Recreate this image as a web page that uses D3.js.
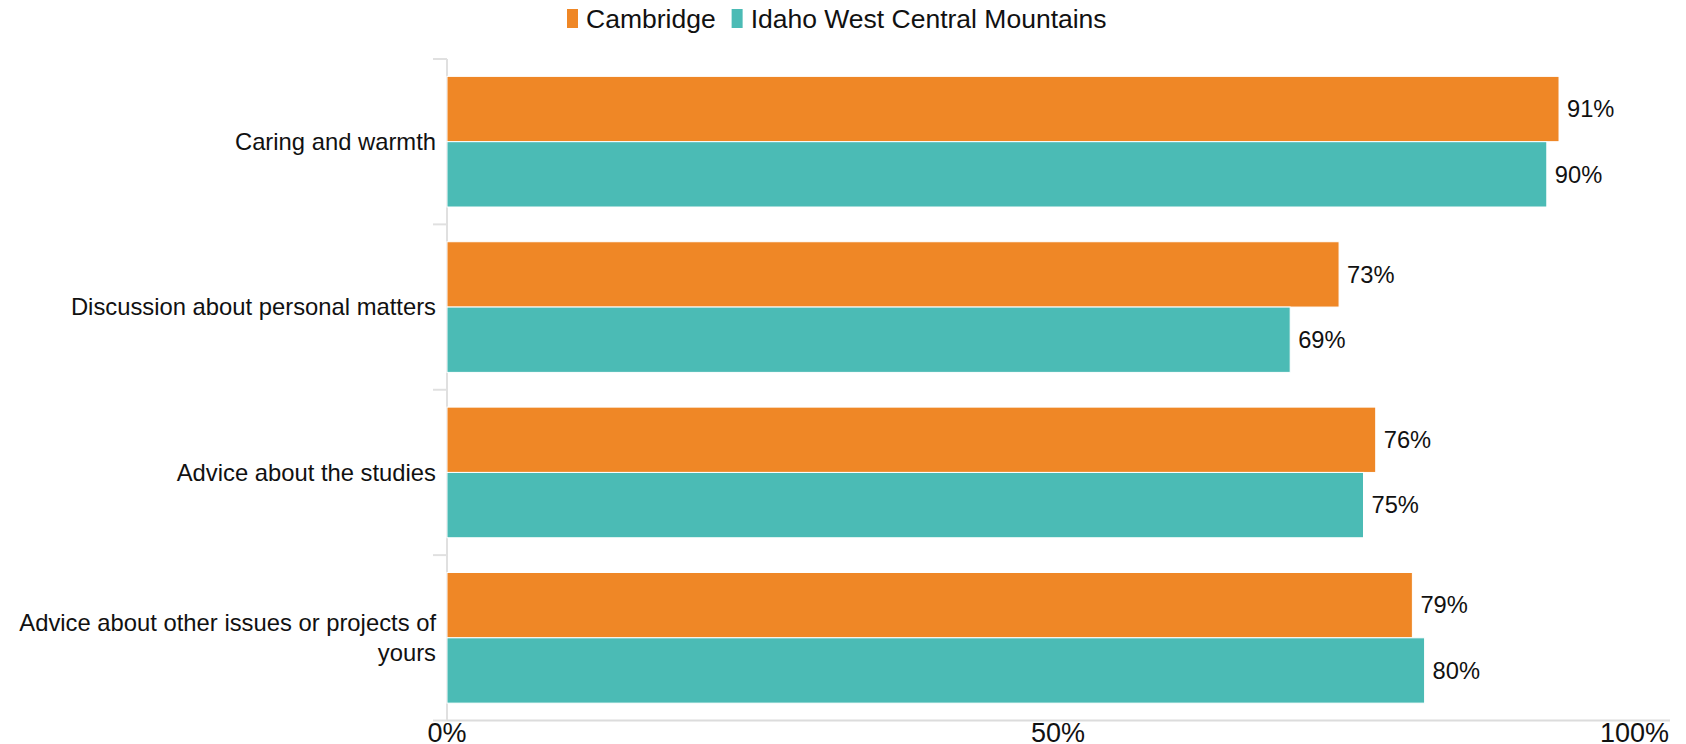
<!DOCTYPE html>
<html>
<head>
<meta charset="utf-8">
<script src="https://cdn.jsdelivr.net/npm/d3@7"></script>
<style>
  html, body { margin: 0; padding: 0; background: #fff; }
  svg { display: block; font-family: "Liberation Sans", Arial, sans-serif; }
</style>
</head>
<body>
<svg id="chart" width="1686" height="744"></svg>
<script>
const categories = [
  ["Caring and warmth"],
  ["Discussion about personal matters"],
  ["Advice about the studies"],
  ["Advice about other issues or projects of ", "yours"]
];
const seriesNames = ["Cambridge", "Idaho West Central Mountains"];
const cambridge = [91, 73, 76, 79];
const idaho = [90, 69, 75, 80];
const seriesValues = [cambridge, idaho];
const colors = ["#EF8726", "#4BBBB5"];
const xTicks = [0, 50, 100];

const W = 1686, H = 744;
const m = { left: 447, right: 1669, top: 59, bottom: 720.5 };
const svg = d3.select("#chart");

const x = d3.scaleLinear().domain([0, 100]).range([m.left, m.right]);
const y0 = d3.scaleBand().domain(d3.range(categories.length)).range([m.top, m.bottom]).padding(0);
const gp = 0.105 * y0.bandwidth();
const y1 = d3.scaleBand().domain(d3.range(seriesNames.length)).range([gp, y0.bandwidth() - gp]).padding(0);

// left axis line and ticks
svg.append("line").attr("x1", m.left).attr("x2", m.left).attr("y1", m.top).attr("y2", m.bottom)
  .attr("stroke", "#e0e0e0").attr("stroke-width", 2);
const bandEdges = d3.range(categories.length + 1).map(i => m.top + i * y0.step());
svg.selectAll(".ytick").data(bandEdges).enter().append("line")
  .attr("x1", m.left - 14).attr("x2", m.left).attr("y1", d => d).attr("y2", d => d)
  .attr("stroke", "#e0e0e0").attr("stroke-width", 2);

// bars
const groups = svg.selectAll(".grp").data(categories).enter().append("g")
  .attr("transform", (d, i) => `translate(0,${y0(i)})`);
groups.each(function(cat, ci) {
  const g = d3.select(this);
  seriesValues.forEach((vals, si) => {
    g.append("rect")
      .attr("x", x(0)).attr("y", y1(si))
      .attr("width", x(vals[ci]) - x(0)).attr("height", y1.bandwidth())
      .attr("fill", colors[si]).attr("stroke", "#fff").attr("stroke-width", 1);
    g.append("text")
      .attr("x", x(vals[ci]) + 8).attr("y", y1(si) + y1.bandwidth() / 2)
      .attr("dy", "0.35em").attr("font-size", 23.7).attr("fill", "#111")
      .text(vals[ci] + "%");
  });
  // category label
  const lh = 29.5;
  const n = cat.length;
  const cy = y0.bandwidth() / 2;
  cat.forEach((line, li) => {
    g.append("text")
      .attr("x", 436).attr("y", cy + (li - (n - 1) / 2) * lh)
      .attr("dy", "0.35em").attr("text-anchor", "end")
      .attr("font-size", 23.8).attr("fill", "#111")
      .text(line);
  });
});

// bottom axis
svg.append("line").attr("x1", m.left).attr("x2", m.right + 1).attr("y1", m.bottom).attr("y2", m.bottom)
  .attr("stroke", "#dcdcdc").attr("stroke-width", 2);
svg.selectAll(".xt").data(xTicks).enter().append("text")
  .attr("x", d => x(d))
  .attr("y", 742)
  .attr("text-anchor", d => d === 100 ? "end" : "middle")
  .attr("font-size", 27).attr("fill", "#111")
  .text(d => d + "%");

// legend
const leg = svg.append("g");
let lx = 567;
seriesNames.forEach((name, i) => {
  leg.append("rect").attr("x", lx).attr("y", 9).attr("width", 11).attr("height", 19).attr("fill", colors[i]);
  const t = leg.append("text").attr("x", lx + 19).attr("y", 28)
    .attr("font-size", 26.5).attr("fill", "#111").text(name);
  lx = lx + 19 + t.node().getComputedTextLength() + 16;
});
</script>
</body>
</html>
